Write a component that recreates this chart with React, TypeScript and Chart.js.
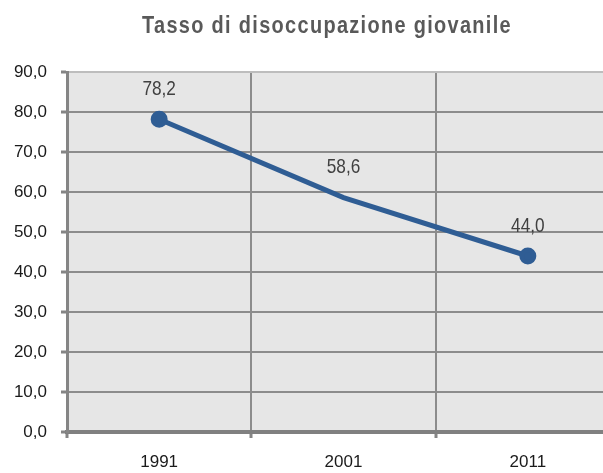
import React, { useEffect, useRef } from "react";
import { Chart, registerables } from "chart.js";

Chart.register(...registerables);

const categories = ["1991", "2001", "2011"];
const values = [78.2, 58.6, 44.0];
const pointRadii = [6, 0, 6];
const yMin = 0;
const yMax = 90;
const yStep = 10;
const titleText = "Tasso di disoccupazione giovanile";

const fmt = (v: number) => v.toFixed(1).replace(".", ",");

const SANS = "'Liberation Sans', Arial, sans-serif";

const bgPlugin = {
  id: "plotBg",
  beforeDraw(chart: any) {
    const { ctx, chartArea } = chart;
    ctx.save();
    ctx.fillStyle = "#e6e6e6";
    ctx.fillRect(chartArea.left, chartArea.top, chartArea.right - chartArea.left, chartArea.bottom - chartArea.top);
    ctx.restore();
  },
};

const labelPlugin = {
  id: "valueLabels",
  afterDatasetsDraw(chart: any) {
    const { ctx } = chart;
    const meta = chart.getDatasetMeta(0);
    const ds = chart.data.datasets[0];
    const sx = 0.82;
    ctx.save();
    ctx.font = `21px ${SANS}`;
    ctx.fillStyle = "#404040";
    ctx.textAlign = "center";
    ctx.textBaseline = "middle";
    meta.data.forEach((pt: any, i: number) => {
      ctx.save();
      ctx.translate(pt.x, pt.y - 30);
      ctx.scale(sx, 1);
      ctx.fillText(fmt(ds.data[i] as number), 0, 0);
      ctx.restore();
    });
    ctx.restore();
  },
};

const titlePlugin = {
  id: "narrowTitle",
  afterDraw(chart: any) {
    const { ctx } = chart;
    ctx.save();
    ctx.font = `bold 24px ${SANS}`;
    ctx.fillStyle = "#595959";
    ctx.textAlign = "center";
    ctx.textBaseline = "middle";
    try {
      (ctx as any).letterSpacing = "1.6px";
    } catch (e) {}
    ctx.translate(327, 26);
    ctx.scale(0.83, 1);
    ctx.fillText(titleText, 0, 0);
    ctx.restore();
  },
};

export default function App() {
  const ref = useRef<HTMLCanvasElement>(null);
  useEffect(() => {
    if (!ref.current) return;
    const chart = new Chart(ref.current, {
      type: "line",
      data: {
        labels: categories,
        datasets: [
          {
            data: values,
            borderColor: "#2f5d94",
            backgroundColor: "#2f5d94",
            borderWidth: 5,
            pointRadius: pointRadii,
            pointHoverRadius: pointRadii,
            pointBackgroundColor: "#2f5d94",
            pointBorderColor: "#2f5d94",
            tension: 0,
            fill: false,
          },
        ],
      },
      options: {
        responsive: false,
        animation: false,
        devicePixelRatio: 1,
        layout: { padding: { left: 0, right: 2, top: 72, bottom: 0 } },
        plugins: {
          legend: { display: false },
          tooltip: { enabled: false },
          title: { display: false },
        },
        scales: {
          x: {
            offset: true,
            grid: {
              offset: true,
              color: "#8c8c8c",
              lineWidth: 2,
              drawTicks: true,
              tickLength: 6,
              tickColor: "#858585",
              tickWidth: 3,
            },
            border: { color: "#808080", width: 4 },
            ticks: {
              color: "#1a1a1a",
              font: { family: SANS, size: 17 },
              padding: 14,
            },
            afterFit(scale: any) {
              scale.height = 41;
            },
          },
          y: {
            min: yMin,
            max: yMax,
            grid: {
              color: (c: any) => (c.tick && c.tick.value === yMax ? "#bdbdbd" : "#8c8c8c"),
              lineWidth: 2,
              drawTicks: true,
              tickLength: 6,
              tickColor: "#858585",
              tickWidth: 3,
            },
            border: { color: "#858585", width: 3 },
            ticks: {
              stepSize: yStep,
              color: "#1a1a1a",
              font: { family: SANS, size: 17 },
              padding: 14,
              callback: (v: any) => fmt(Number(v)),
            },
            afterFit(scale: any) {
              scale.width = 67;
            },
          },
        },
      },
      plugins: [bgPlugin, labelPlugin, titlePlugin],
    } as any);
    return () => chart.destroy();
  }, []);
  return (
    <div style={{ position: "absolute", left: 0, top: 0, width: 603, height: 473, overflow: "hidden", background: "#fff" }}>
      <canvas ref={ref} width={631} height={473} style={{ width: 631, height: 473, display: "block" }} />
    </div>
  );
}
